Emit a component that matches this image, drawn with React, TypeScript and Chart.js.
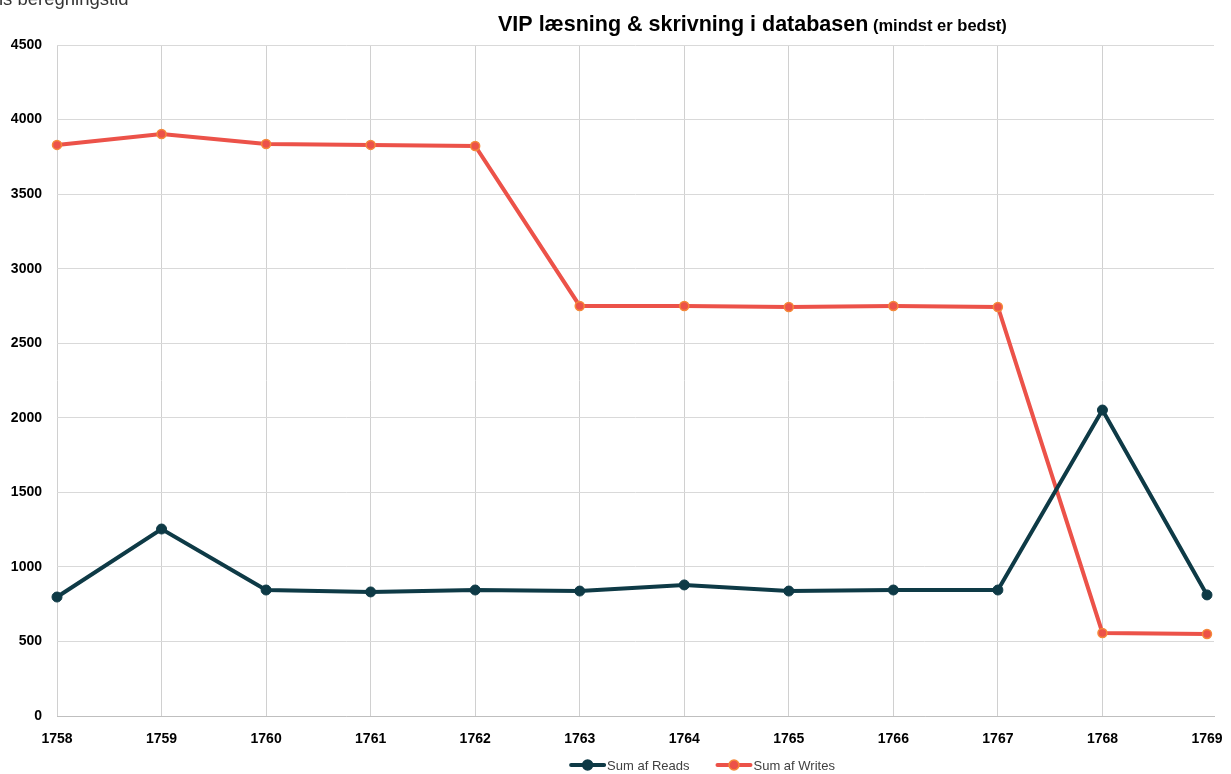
import React, { useEffect, useRef } from "react";
import { Chart, registerables } from "chart.js";

Chart.register(...registerables);

const categories = ["1758", "1759", "1760", "1761", "1762", "1763", "1764", "1765", "1766", "1767", "1768", "1769"];
const readsValues = [798, 1254, 845, 832, 845, 838, 879, 838, 845, 845, 2052, 812];
const writesValues = [3830, 3903, 3836, 3830, 3823, 2750, 2750, 2743, 2750, 2743, 557, 550];
const yTicks = [0, 500, 1000, 1500, 2000, 2500, 3000, 3500, 4000, 4500];
const titleMain = "VIP læsning & skrivning i databasen";
const titleSub = " (mindst er bedst)";
const cutText = "ls beregningstid";

const FONT = "'Liberation Sans', Arial, sans-serif";
const READ_COLOR = "#0e3a46";
const WRITE_COLOR = "#ec5249";
const WRITE_POINT_BORDER = "#f5893a";

const toPoints = (vals: number[]) => vals.map((v, i) => ({ x: i, y: v }));

const decorPlugin = {
  id: "decor",
  afterDraw(chart: any) {
    const ctx = chart.ctx;
    ctx.save();
    // cut-off text top left
    ctx.fillStyle = "#333333";
    ctx.font = `18.5px ${FONT}`;
    ctx.textBaseline = "alphabetic";
    ctx.textAlign = "left";
    ctx.fillText(cutText, -1, 5);
    // title
    ctx.fillStyle = "#000000";
    ctx.font = `bold 21.5px ${FONT}`;
    const x0 = 498;
    const w1 = ctx.measureText(titleMain).width;
    ctx.fillText(titleMain, x0, 31);
    ctx.font = `bold 16.5px ${FONT}`;
    ctx.fillText(titleSub, x0 + w1, 31);
    // legend
    ctx.font = `13px ${FONT}`;
    const items = chart.data.datasets.map((ds: any) => ({
      label: ds.label,
      color: ds.borderColor,
      pbg: ds.pointBackgroundColor,
      pbc: ds.pointBorderColor,
    }));
    const lineLen = 37;
    const gap = 1;
    const itemGap = 26;
    const widths = items.map((it: any) => lineLen + gap + ctx.measureText(it.label).width);
    const total = widths.reduce((a: number, b: number) => a + b, 0) + itemGap * (items.length - 1);
    let x = 702 - total / 2;
    const y = 765;
    items.forEach((it: any, i: number) => {
      ctx.strokeStyle = it.color;
      ctx.lineWidth = 4;
      ctx.lineCap = "round";
      ctx.beginPath();
      ctx.moveTo(x + 2, y);
      ctx.lineTo(x + lineLen - 2, y);
      ctx.stroke();
      ctx.beginPath();
      ctx.arc(x + lineLen / 2, y, 5, 0, Math.PI * 2);
      ctx.fillStyle = it.pbg;
      ctx.fill();
      ctx.lineWidth = 1.5;
      ctx.strokeStyle = it.pbc;
      ctx.stroke();
      ctx.fillStyle = "#404040";
      ctx.textBaseline = "middle";
      ctx.fillText(it.label, x + lineLen + gap, y + 1);
      x += widths[i] + itemGap;
    });
    ctx.restore();
  },
};

export default function App() {
  const canvasRef = useRef<HTMLCanvasElement | null>(null);

  useEffect(() => {
    document.body.style.margin = "0";
    const canvas = canvasRef.current;
    if (!canvas) return;
    const lastIdx = categories.length - 1;
    const chart = new Chart(canvas, {
      type: "line",
      data: {
        datasets: [
          {
            label: "Sum af Reads",
            data: toPoints(readsValues),
            borderColor: READ_COLOR,
            backgroundColor: READ_COLOR,
            pointBackgroundColor: READ_COLOR,
            pointBorderColor: READ_COLOR,
            pointRadius: 5,
            pointBorderWidth: 1,
            borderWidth: 4,
            tension: 0,
            clip: false,
          },
          {
            label: "Sum af Writes",
            data: toPoints(writesValues),
            borderColor: WRITE_COLOR,
            backgroundColor: WRITE_COLOR,
            pointBackgroundColor: WRITE_COLOR,
            pointBorderColor: WRITE_POINT_BORDER,
            pointRadius: 4.5,
            pointBorderWidth: 1.5,
            borderWidth: 4,
            tension: 0,
            clip: false,
          },
        ],
      },
      options: {
        animation: false,
        responsive: false,
        layout: { padding: { top: 45, right: 17, left: 0, bottom: 0 } },
        plugins: {
          legend: { display: false },
          title: { display: false },
          tooltip: { enabled: false },
        },
        scales: {
          x: {
            type: "linear",
            min: 0,
            max: lastIdx + 0.067,
            offset: false,
            afterBuildTicks(scale: any) {
              scale.ticks = categories.map((_, i) => ({ value: i }));
            },
            grid: {
              color: (c: any) => (c.tick && c.tick.value === lastIdx ? "rgba(0,0,0,0)" : "#d0d0d0"),
              lineWidth: 1,
              drawTicks: false,
            },
            border: { color: "#bfbfbf" },
            ticks: {
              color: "#000000",
              font: { family: FONT, size: 14, weight: "bold" },
              padding: 15,
              maxRotation: 0,
              autoSkip: false,
              callback: (v: any) => categories[Math.round(Number(v))] ?? "",
            },
            afterFit(scale: any) {
              scale.height = 774 - 716;
              scale.paddingRight = 0;
              scale.paddingLeft = 0;
            },
          },
          y: {
            min: 0,
            max: 4500,
            afterBuildTicks(scale: any) {
              scale.ticks = yTicks.map((v) => ({ value: v }));
            },
            grid: { color: "#d9d9d9", lineWidth: 1, drawTicks: false },
            border: { display: false },
            ticks: {
              color: "#000000",
              font: { family: FONT, size: 14, weight: "bold" },
              padding: 15,
              callback: (v: any) => String(v),
            },
            afterFit(scale: any) {
              scale.width = 57;
              scale.paddingTop = 0;
              scale.paddingBottom = 0;
            },
          },
        },
      },
      plugins: [decorPlugin],
    } as any);
    return () => chart.destroy();
  }, []);

  return (
    <div style={{ width: 1231, height: 774, background: "#ffffff" }}>
      <canvas ref={canvasRef} width={1231} height={774} style={{ display: "block" }} />
    </div>
  );
}
